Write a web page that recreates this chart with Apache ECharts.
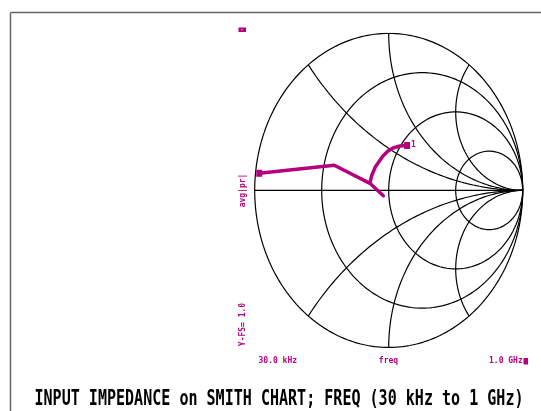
<!DOCTYPE html>
<html><head><meta charset="utf-8">
<script src="https://cdn.jsdelivr.net/npm/echarts@6/dist/echarts.min.js"></script>
<style>html,body{margin:0;padding:0;background:#fff}#c{width:541px;height:411px}</style>
</head><body><div id="c"></div>
<script>
// Smith chart grid values (normalized)
const resistanceCircles = [0, 1/3, 1, 3];
const reactanceArcs = [0.5, 1, 2];
const traceRe = [0.137, 0.084, 0.032, -0.005, -0.043, -0.099, -0.128, -0.140, -0.040, -0.140, -0.406, -0.966];
const traceIm = [0.286, 0.283, 0.270, 0.251, 0.219, 0.151, 0.092, 0.045, -0.034, 0.045, 0.160, 0.109];
// Text
const titleText = 'INPUT IMPEDANCE on SMITH CHART; FREQ (30 kHz to 1 GHz)';
const xStartLabel = '30.0 kHz', xMidLabel = 'freq', xEndLabel = '1.0 GHz';
const yLabel = 'avg|pr|', yScaleLabel = 'Y-FS= 1.0';

const MAG = '#b5007f';
const chart = echarts.init(document.getElementById('c'), null, {renderer: 'canvas'});

function circlePts(cx, cy, R, a0, a1, n) {
  const pts = [];
  for (let i = 0; i <= n; i++) {
    const t = a0 + (a1 - a0) * i / n;
    pts.push([cx + R * Math.cos(t), cy + R * Math.sin(t)]);
  }
  return pts;
}
const gridSeries = [];
const lineStyle = {color: '#000', width: 1.2};
function addGrid(data) {
  gridSeries.push({type: 'line', data, showSymbol: false, symbol: 'none', silent: true,
    lineStyle, animation: false, z: 1});
}
resistanceCircles.forEach(r => {
  addGrid(circlePts(r / (1 + r), 0, 1 / (1 + r), 0, 2 * Math.PI, 240));
});
reactanceArcs.forEach(x => {
  [1, -1].forEach(s => {
    const cy = s / x, R = 1 / x;
    const er = (x * x - 1) / (x * x + 1), ei = s * 2 * x / (x * x + 1);
    let a = Math.atan2(ei - cy, er - 1);
    if (a < 0) a += 2 * Math.PI;
    const b = s > 0 ? 1.5 * Math.PI : 0.5 * Math.PI;
    addGrid(circlePts(1, cy, R, a, b, 160));
  });
});
addGrid([[-1, 0], [1, 0]]);

const traceData = traceRe.map((v, i) => {
  const last = i === traceRe.length - 1, first = i === 0;
  if (first || last) return {value: [v, traceIm[i]], symbol: 'rect', symbolSize: [6, 7],
    itemStyle: {color: MAG}};
  return {value: [v, traceIm[i]], symbol: 'none'};
});

// fit title width (compress horizontally like the plotter font)
const cv = document.createElement('canvas').getContext('2d');
const fam = "'DejaVu Sans Mono', monospace";
const titleFont = 'bold 21px ' + fam;
cv.font = titleFont;
const tw = cv.measureText(titleText).width;
const titleScaleX = 489 / tw;

const small = {fill: MAG, font: 'bold 8px "DejaVu Sans Mono", monospace'};

chart.setOption({
  animation: false,
  grid: {left: 254.7, top: 33.4, width: 268, height: 314},
  xAxis: {type: 'value', min: -1, max: 1, show: false},
  yAxis: {type: 'value', min: -1, max: 1, show: false},
  series: gridSeries.concat([{
    type: 'line', data: traceData, showSymbol: true, silent: true, z: 5,
    lineStyle: {color: MAG, width: 3.5, join: 'round'}, itemStyle: {color: MAG}
  }]),
  graphic: [
    {type: 'line', shape: {x1: 10.5, y1: 12.5, x2: 541, y2: 12.5}, style: {stroke: '#666', lineWidth: 1.5}},
    {type: 'line', shape: {x1: 10.5, y1: 12.5, x2: 10.5, y2: 411}, style: {stroke: '#666', lineWidth: 1.5}},
    {type: 'text', x: 279, y: 399.5, scaleX: titleScaleX, scaleY: 1,
      style: {text: titleText, fill: '#000', textAlign: 'center', textVerticalAlign: 'middle', font: titleFont}},
    {type: 'rect', shape: {x: 238.5, y: 27.5, width: 7.5, height: 4.5}, style: {fill: MAG}},
    {type: 'rect', shape: {x: 241.5, y: 29, width: 1, height: 1}, style: {fill: '#fff'}},
    {type: 'text', x: 243, y: 190.5, rotation: Math.PI / 2, style: Object.assign({text: yLabel, textAlign: 'center', textVerticalAlign: 'middle'}, small)},
    {type: 'text', x: 243, y: 324.5, rotation: Math.PI / 2, style: Object.assign({text: yScaleLabel, textAlign: 'center', textVerticalAlign: 'middle'}, small)},
    {type: 'text', x: 258.5, y: 361, style: Object.assign({text: xStartLabel, textAlign: 'left', textVerticalAlign: 'middle'}, small)},
    {type: 'text', x: 388.5, y: 361, style: Object.assign({text: xMidLabel, textAlign: 'center', textVerticalAlign: 'middle'}, small)},
    {type: 'text', x: 489, y: 361, style: Object.assign({text: xEndLabel, textAlign: 'left', textVerticalAlign: 'middle'}, small)},
    {type: 'rect', shape: {x: 523.5, y: 358, width: 4.5, height: 6.5}, style: {fill: MAG}},
    {type: 'text', x: 411, y: 144.5, style: Object.assign({text: '1', textAlign: 'left', textVerticalAlign: 'middle'}, small)}
  ]
});
</script></body></html>
